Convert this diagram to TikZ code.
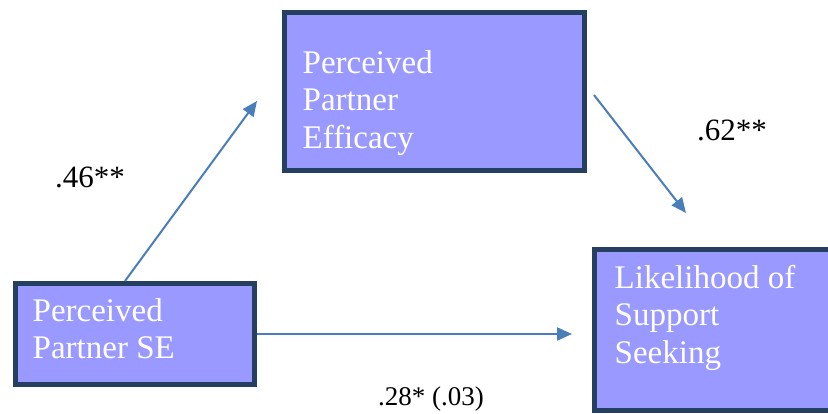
\documentclass[tikz,border=0pt]{standalone}
\usepackage{fontspec}
\setmainfont{Liberation Serif}
\usetikzlibrary{positioning}
\usetikzlibrary{arrows.meta}
\usetikzlibrary{calc}
\definecolor{boxfill}{HTML}{9999FF}
\definecolor{boxline}{HTML}{243F60}
\definecolor{arrowblue}{HTML}{4A7EBB}

\begin{document}
\begin{tikzpicture}[x=1pt, y=-1pt, >={Triangle[length=15pt,width=13pt]},
  varbox/.style={rectangle, draw=boxline, fill=boxfill, line width=5pt, inner sep=0pt},
  boxtext/.style={anchor=north west, inner sep=0pt, align=left, text=white, font=\fontsize{33}{37.5}\selectfont},
  coef/.style={anchor=base west, inner sep=0pt, font=\fontsize{31}{36}\selectfont},
  link/.style={->, draw=arrowblue, line width=2pt}]

  \useasboundingbox (0,0) rectangle (828,413);
  \clip (0,0) rectangle (828,413);

  % variables
  \node[varbox, minimum width=300pt, minimum height=158pt] (ppe) at (434.5,91.5) {};
  \node[varbox, minimum width=239pt, minimum height=101pt] (ppse) at (135,334) {};
  \node[varbox, minimum width=253pt, minimum height=161pt] (lss) at (721,330) {};

  \node[boxtext] (ppe-txt) at ($(ppe.north west)+(20.5,40)$) {Perceived\\Partner\\Efficacy};
  \node[boxtext] (ppse-txt) at ($(ppse.north west)+(19.5,17)$) {Perceived\\Partner SE};
  \node[boxtext] (lss-txt) at ($(lss.north west)+(22.5,18)$) {Likelihood of\\Support\\Seeking};

  % free ends of the paths
  \coordinate (a1end) at (257,101);
  \coordinate (a2start) at (594,95);
  \coordinate (a2end) at (686,213);
  \coordinate (a3end) at (572,334);

  \draw[link] ([xshift=-10pt]ppse.north) -- (a1end);
  \draw[link] (a2start) -- (a2end);
  \draw[link] (ppse.east) -- (a3end);

  % coefficients
  \node[coef] (c1) at (55,187) {.46**};
  \node[coef] (c2) at (697,140) {.62**};
  \node[coef, font=\fontsize{27}{32}\selectfont] (c3) at (378,405) {.28* (.03)};
\end{tikzpicture}
\end{document}
